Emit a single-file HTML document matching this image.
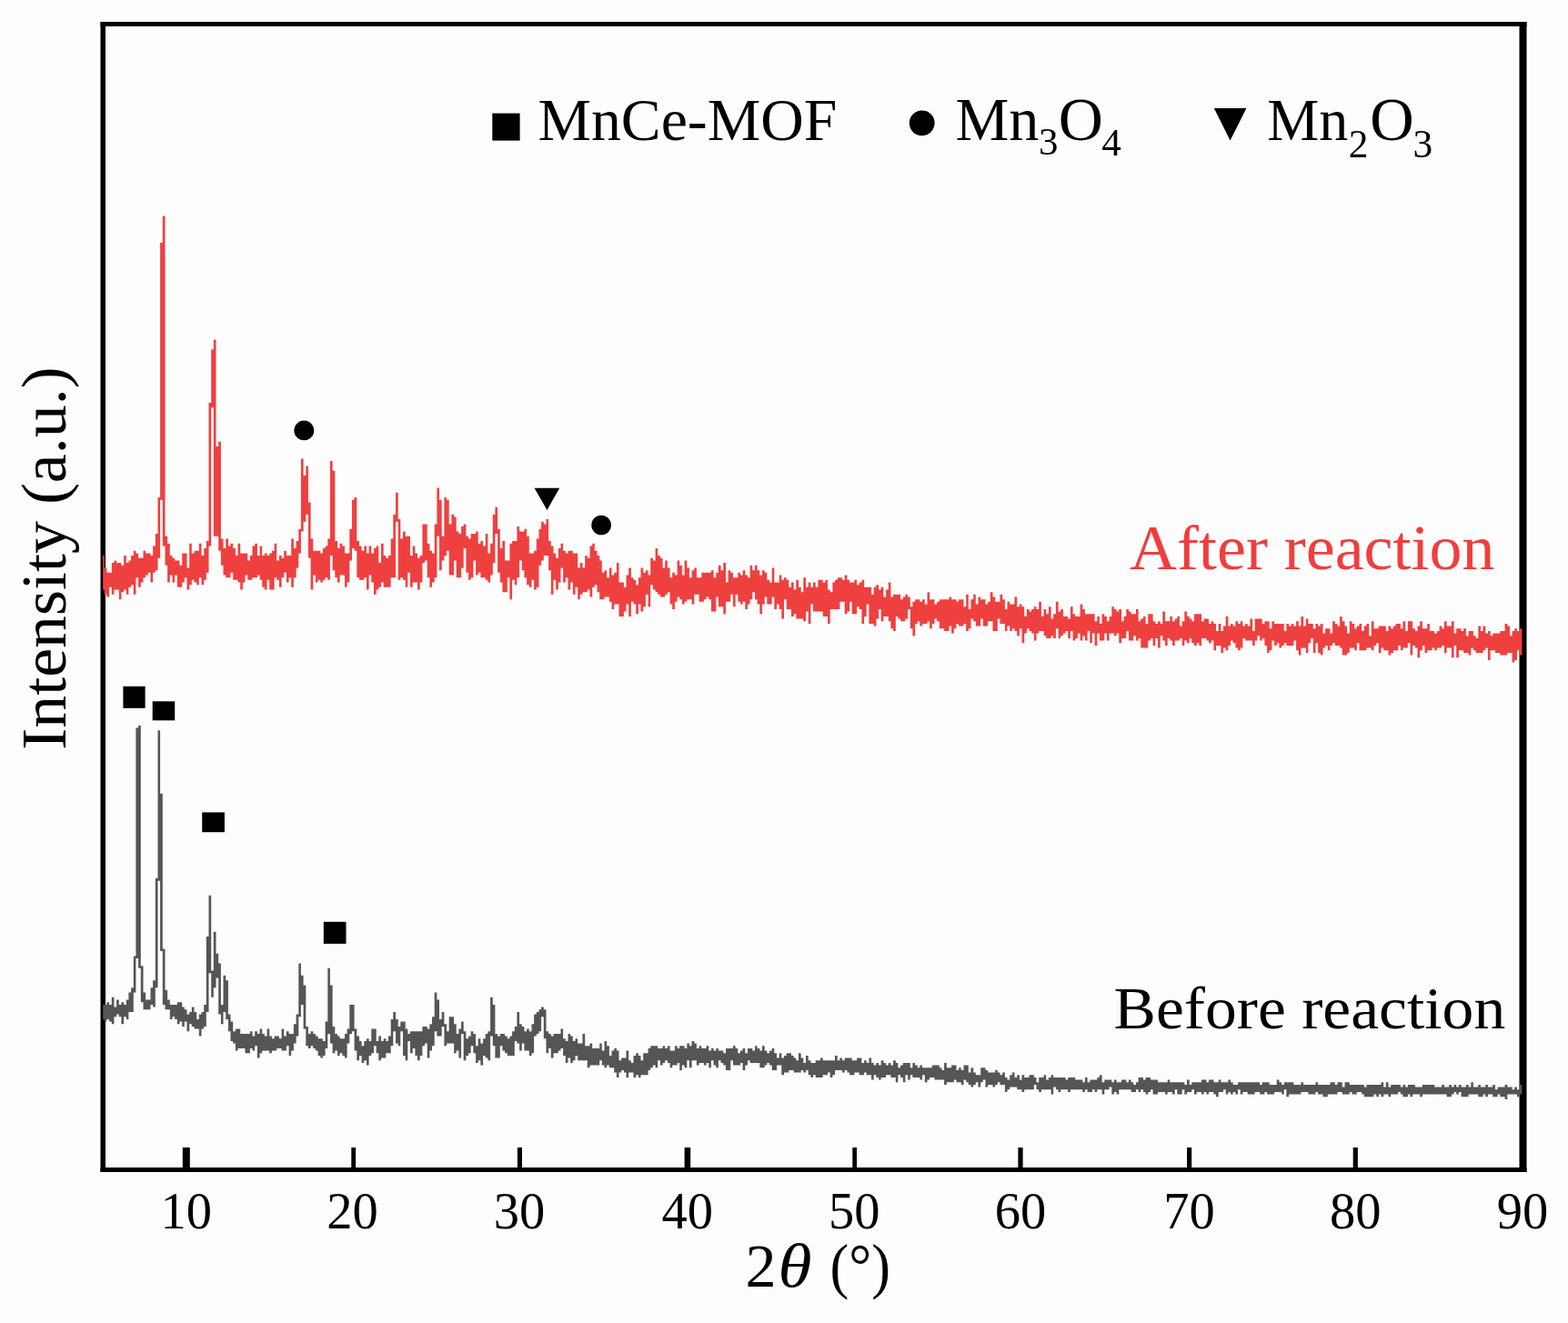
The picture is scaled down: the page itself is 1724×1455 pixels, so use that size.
<!DOCTYPE html>
<html lang="en">
<head>
<meta charset="utf-8">
<title>XRD patterns before and after reaction</title>
<style>
html,body{margin:0;padding:0;background:#fdfdfd;}
body{width:1724px;height:1455px;overflow:hidden;}
svg{display:block;}
</style>
</head>
<body>
<svg width="1724" height="1455" viewBox="0 0 1724 1455" font-family="'Liberation Serif', 'DejaVu Serif', serif">
<rect x="0" y="0" width="1724" height="1455" fill="#fdfdfd"/>
<g fill="#000">
<rect x="110.5" y="24" width="5.5" height="1265"/>
<rect x="1670.5" y="24" width="8.0" height="1265"/>
<rect x="110.5" y="24" width="1568.0" height="5"/>
<rect x="110.5" y="1284" width="1568.0" height="5"/>
<rect x="200.8" y="1262" width="8.0" height="23"/>
<rect x="386.3" y="1262" width="4.8" height="23"/>
<rect x="568.9" y="1262" width="5.1" height="23"/>
<rect x="752.6" y="1262" width="6.6" height="23"/>
<rect x="937.3" y="1262" width="4.7" height="23"/>
<rect x="1119.4" y="1262" width="5.2" height="23"/>
<rect x="1305.0" y="1262" width="5.2" height="23"/>
<rect x="1487.7" y="1262" width="5.2" height="23"/>
</g>
<path fill="#555555" d="M493.7 1118.2H499.1V1126.2H501.7V1136.9H504.4V1131.5H507.1V1123.5H509.7V1134.2H512.4V1142.2H515.1V1139.5H517.7V1134.2H520.4V1136.9H523.1V1150.2H525.7V1142.2H528.4V1147.6H531.1V1142.2H533.7V1136.9H536.4V1134.2H539.1V1096.8H541.8V1104.9H544.4V1136.9H547.1V1139.5H549.8V1136.9H555.1V1139.5H557.8V1142.2H560.4V1139.5H563.1V1134.2H565.8V1128.9H568.4V1112.9H571.1V1126.2H573.8V1128.9H576.4V1134.2H579.1V1131.5H581.8V1134.2H584.5V1126.2H587.1V1115.5H589.8V1112.9H592.5V1110.2H595.1V1107.5H597.8V1110.2H600.5V1134.2H603.1V1136.9H605.8V1139.5H608.5V1136.9H616.5V1131.5H619.1V1142.2H621.8V1144.9H624.5V1136.9H627.2V1139.5H629.8V1144.9H632.5V1142.2H635.2V1147.6H640.5V1136.9H643.2V1150.2H648.5V1147.6H651.2V1152.9H659.2V1147.6H661.8V1155.6H664.5V1144.9H667.2V1150.2H669.9V1160.9H672.5V1155.6H675.2V1152.9H677.9V1155.6H680.5V1166.2H683.2V1163.6H688.5V1155.6H691.2V1166.2H693.9V1168.9H696.5V1160.9H699.2V1158.2H701.9V1160.9H704.5V1166.2H707.2V1158.2H712.6V1152.9H715.2V1150.2H723.2V1152.9H728.6V1150.2H731.2V1152.9H733.9V1150.2H736.6V1155.6H741.9V1150.2H744.6V1152.9H747.2V1150.2H752.6V1152.9H755.3V1147.6H757.9V1150.2H760.6V1144.9H763.3V1147.6H765.9V1152.9H768.6V1150.2H771.3V1152.9H776.6V1150.2H779.3V1155.6H781.9V1152.9H784.6V1155.6H787.3V1152.9H789.9V1155.6H795.3V1158.2H798V1152.9H806V1150.2H808.6V1152.9H811.3V1158.2H814V1155.6H816.6V1152.9H819.3V1158.2H822V1152.9H827.3V1155.6H830V1150.2H832.6V1152.9H835.3V1155.6H838V1150.2H840.7V1155.6H843.3V1158.2H846V1155.6H848.7V1152.9H851.3V1158.2H854V1163.6H856.7V1158.2H859.3V1163.6H862V1160.9H864.7V1158.2H870V1160.9H872.7V1163.6H875.3V1166.2H878V1158.2H880.7V1163.6H883.3V1168.9H886V1160.9H888.7V1166.2H891.4V1168.9H896.7V1166.2H902V1163.6H904.7V1166.2H918V1160.9H920.7V1166.2H923.4V1163.6H926V1166.2H928.7V1163.6H936.7V1166.2H942.1V1163.6H947.4V1168.9H950.1V1166.2H952.7V1168.9H955.4V1163.6H958.1V1168.9H960.7V1171.6H963.4V1168.9H966.1V1171.6H968.7V1166.2H971.4V1168.9H974.1V1171.6H976.8V1168.9H979.4V1171.6H982.1V1166.2H984.8V1168.9H987.4V1174.2H990.1V1171.6H992.8V1168.9H1000.8V1174.2H1003.4V1168.9H1006.1V1171.6H1008.8V1174.2H1011.4V1171.6H1014.1V1174.2H1024.8V1171.6H1032.8V1174.2H1035.5V1176.9H1038.1V1168.9H1040.8V1174.2H1046.1V1171.6H1051.5V1176.9H1054.1V1174.2H1056.8V1176.9H1059.5V1171.6H1064.8V1179.6H1067.5V1174.2H1070.2V1179.6H1072.8V1182.2H1078.2V1174.2H1083.5V1176.9H1086.2V1179.6H1094.2V1176.9H1096.8V1179.6H1099.5V1182.2H1102.2V1179.6H1104.9V1184.9H1107.5V1187.6H1110.2V1182.2H1112.9V1179.6H1115.5V1184.9H1118.2V1182.2H1120.9V1187.6H1123.5V1182.2H1126.2V1184.9H1131.5V1182.2H1136.9V1184.9H1139.5V1190.3H1142.2V1184.9H1147.6V1182.2H1150.2V1187.6H1152.9V1184.9H1155.6V1182.2H1158.2V1184.9H1171.6V1187.6H1174.2V1184.9H1182.2V1187.6H1190.3V1190.3H1192.9V1184.9H1195.6V1190.3H1198.3V1187.6H1206.3V1184.9H1208.9V1182.2H1211.6V1190.3H1214.3V1187.6H1222.3V1190.3H1224.9V1187.6H1227.6V1190.3H1233V1187.6H1238.3V1190.3H1241V1187.6H1243.6V1190.3H1246.3V1192.9H1249V1190.3H1251.6V1184.9H1257V1187.6H1259.6V1184.9H1265V1187.6H1273V1190.3H1283.7V1187.6H1286.3V1190.3H1302.3V1192.9H1305V1187.6H1307.7V1192.9H1310.3V1190.3H1321V1187.6H1326.4V1190.3H1329V1187.6H1334.4V1190.3H1339.7V1187.6H1342.4V1190.3H1350.4V1187.6H1353V1190.3H1355.7V1192.9H1361.1V1190.3H1385.1V1192.9H1387.7V1190.3H1395.7V1192.9H1403.8V1187.6H1406.4V1190.3H1409.1V1192.9H1411.8V1190.3H1422.4V1192.9H1430.4V1190.3H1433.1V1192.9H1446.5V1190.3H1449.1V1192.9H1462.5V1190.3H1467.8V1192.9H1470.5V1190.3H1475.8V1195.6H1478.5V1190.3H1483.8V1192.9H1499.8V1195.6H1502.5V1192.9H1518.5V1190.3H1521.2V1195.6H1523.8V1190.3H1526.5V1195.6H1529.2V1192.9H1539.9V1195.6H1542.5V1192.9H1545.2V1195.6H1547.9V1192.9H1555.9V1195.6H1563.9V1192.9H1577.2V1195.6H1585.2V1192.9H1587.9V1195.6H1593.2V1192.9H1595.9V1195.6H1598.6V1192.9H1601.2V1195.6H1603.9V1192.9H1606.6V1195.6H1611.9V1192.9H1614.6V1195.6H1617.3V1190.3H1619.9V1195.6H1625.3V1192.9H1627.9V1195.6H1633.3V1192.9H1635.9V1195.6H1641.3V1192.9H1643.9V1198.3H1646.6V1195.6H1654.6V1192.9H1657.3V1195.6H1662.6V1198.3H1665.3V1195.6H1668V1198.3H1670.6V1192.9H1673.3V1195.6H1673.4V1203.6H1670.6V1206.3H1668V1203.6H1657.3V1208.9H1654.6V1206.3H1649.3V1203.6H1646.6V1206.3H1641.3V1203.6H1635.9V1206.3H1633.3V1203.6H1630.6V1206.3H1625.3V1203.6H1614.6V1206.3H1606.6V1200.9H1603.9V1203.6H1601.2V1200.9H1598.6V1203.6H1595.9V1206.3H1590.6V1203.6H1563.9V1206.3H1561.2V1203.6H1553.2V1206.3H1550.5V1203.6H1547.9V1206.3H1542.5V1203.6H1539.9V1200.9H1537.2V1203.6H1529.2V1206.3H1526.5V1203.6H1521.2V1206.3H1518.5V1203.6H1515.8V1206.3H1513.2V1203.6H1510.5V1206.3H1499.8V1203.6H1497.2V1200.9H1491.8V1203.6H1486.5V1200.9H1483.8V1203.6H1475.8V1200.9H1470.5V1203.6H1459.8V1206.3H1454.5V1203.6H1449.1V1200.9H1446.5V1203.6H1438.4V1200.9H1430.4V1203.6H1417.1V1206.3H1414.4V1198.3H1411.8V1203.6H1409.1V1200.9H1401.1V1203.6H1393.1V1200.9H1390.4V1203.6H1385.1V1200.9H1379.7V1203.6H1371.7V1200.9H1366.4V1203.6H1363.7V1198.3H1361.1V1203.6H1358.4V1200.9H1355.7V1203.6H1353V1200.9H1350.4V1203.6H1347.7V1198.3H1345V1200.9H1339.7V1206.3H1337V1203.6H1334.4V1200.9H1329V1203.6H1326.4V1200.9H1323.7V1203.6H1321V1200.9H1315.7V1203.6H1313V1198.3H1310.3V1200.9H1305V1203.6H1302.3V1198.3H1299.7V1203.6H1294.3V1198.3H1291.7V1203.6H1289V1200.9H1283.7V1203.6H1281V1200.9H1273V1203.6H1267.6V1198.3H1265V1200.9H1262.3V1203.6H1259.6V1200.9H1257V1198.3H1254.3V1200.9H1251.6V1198.3H1249V1200.9H1243.6V1198.3H1230.3V1203.6H1227.6V1200.9H1224.9V1203.6H1222.3V1195.6H1219.6V1198.3H1214.3V1203.6H1211.6V1198.3H1206.3V1200.9H1203.6V1198.3H1200.9V1200.9H1195.6V1198.3H1192.9V1200.9H1190.3V1198.3H1176.9V1200.9H1174.2V1198.3H1166.2V1200.9H1163.6V1198.3H1160.9V1195.6H1158.2V1203.6H1155.6V1198.3H1144.9V1200.9H1142.2V1198.3H1139.5V1192.9H1136.9V1198.3H1126.2V1200.9H1123.5V1198.3H1118.2V1195.6H1110.2V1198.3H1107.5V1200.9H1104.9V1192.9H1099.5V1190.3H1096.8V1192.9H1094.2V1195.6H1091.5V1192.9H1086.2V1195.6H1083.5V1187.6H1080.8V1190.3H1078.2V1195.6H1075.5V1190.3H1072.8V1192.9H1070.2V1195.6H1067.5V1192.9H1064.8V1190.3H1062.2V1187.6H1059.5V1192.9H1056.8V1190.3H1051.5V1187.6H1048.8V1190.3H1040.8V1192.9H1038.1V1187.6H1027.5V1184.9H1022.1V1187.6H1019.5V1190.3H1016.8V1182.2H1014.1V1187.6H1011.4V1184.9H1003.4V1182.2H1000.8V1187.6H998.1V1182.2H995.4V1190.3H992.8V1184.9H990.1V1182.2H987.4V1190.3H984.8V1184.9H979.4V1182.2H974.1V1184.9H968.7V1187.6H966.1V1184.9H963.4V1182.2H960.7V1187.6H958.1V1182.2H952.7V1179.6H950.1V1182.2H944.7V1179.6H939.4V1182.2H934.1V1179.6H931.4V1176.9H928.7V1179.6H926V1176.9H918V1182.2H915.4V1184.9H912.7V1179.6H910V1182.2H904.7V1184.9H896.7V1182.2H894V1184.9H891.4V1182.2H888.7V1176.9H886V1179.6H883.3V1176.9H880.7V1179.6H872.7V1176.9H867.3V1179.6H862V1182.2H859.3V1171.6H854V1176.9H848.7V1171.6H846V1168.9H843.3V1171.6H840.7V1174.2H835.3V1168.9H824.6V1166.2H822V1171.6H819.3V1176.9H816.6V1168.9H814V1171.6H806V1166.2H803.3V1176.9H798V1171.6H795.3V1168.9H792.6V1166.2H789.9V1174.2H787.3V1171.6H784.6V1166.2H781.9V1174.2H779.3V1168.9H776.6V1171.6H773.9V1168.9H768.6V1171.6H765.9V1166.2H760.6V1174.2H757.9V1166.2H755.3V1174.2H752.6V1171.6H749.9V1176.9H747.2V1168.9H744.6V1171.6H739.2V1174.2H736.6V1168.9H733.9V1166.2H731.2V1168.9H728.6V1171.6H725.9V1166.2H723.2V1174.2H720.6V1171.6H717.9V1174.2H715.2V1176.9H712.6V1182.2H704.5V1184.9H701.9V1182.2H699.2V1184.9H696.5V1179.6H691.2V1184.9H688.5V1179.6H685.9V1176.9H683.2V1179.6H680.5V1184.9H677.9V1179.6H675.2V1174.2H669.9V1171.6H667.2V1174.2H664.5V1171.6H661.8V1166.2H659.2V1171.6H648.5V1174.2H645.8V1166.2H635.2V1160.9H632.5V1166.2H629.8V1168.9H627.2V1163.6H624.5V1168.9H621.8V1160.9H619.1V1152.9H616.5V1155.6H613.8V1158.2H608.5V1163.6H605.8V1152.9H603.1V1158.2H600.5V1142.2H597.8V1118.2H595.1V1134.2H592.5V1136.9H589.8V1139.5H587.1V1158.2H584.5V1160.9H581.8V1155.6H576.4V1147.6H573.8V1155.6H571.1V1147.6H568.4V1144.9H565.8V1160.9H557.8V1158.2H555.1V1155.6H552.4V1150.2H549.8V1163.6H544.4V1150.2H541.8V1139.5H539.1V1166.2H536.4V1163.6H533.7V1160.9H531.1V1171.6H528.4V1166.2H525.7V1168.9H523.1V1158.2H520.4V1150.2H517.7V1158.2H515.1V1160.9H512.4V1166.2H509.7V1136.9H507.1V1163.6H504.4V1155.6H501.7V1158.2H499.1V1147.6H491V1150.2H488.4V1128.9H485.7V1139.5H480.4V1134.2H477.7V1150.2H475V1155.6H472.4V1163.6H469.7V1147.6H467V1150.2H464.4V1160.9H461.7V1166.2H459V1160.9H456.4V1152.9H453.7V1158.2H451V1144.9H448.3V1166.2H445.7V1160.9H443V1134.2H440.3V1150.2H437.7V1147.6H435V1134.2H432.3V1150.2H429.7V1158.2H424.3V1163.6H419V1166.2H416.3V1158.2H413.7V1150.2H411V1158.2H408.3V1160.9H405.6V1171.6H403V1166.2H400.3V1168.9H397.6V1160.9H395V1166.2H392.3V1155.6H389.6V1134.2H387V1136.9H384.3V1147.6H381.6V1163.6H379V1160.9H376.3V1158.2H373.6V1160.9H371V1155.6H368.3V1158.2H365.6V1147.6H362.9V1136.9H360.3V1152.9H357.6V1160.9H354.9V1163.6H352.3V1160.9H349.6V1155.6H346.9V1152.9H344.3V1150.2H341.6V1152.9H338.9V1150.2H336.3V1131.5H333.6V1104.9H330.9V1118.2H328.3V1139.5H325.6V1147.6H322.9V1155.6H320.2V1160.9H317.6V1150.2H314.9V1155.6H309.6V1152.9H304.2V1155.6H298.9V1158.2H296.2V1155.6H288.2V1158.2H285.6V1163.6H282.9V1150.2H280.2V1155.6H277.5V1152.9H274.9V1158.2H269.5V1152.9H261.5V1155.6H258.9V1147.6H256.2V1144.9H253.5V1134.2H250.9V1120.9H248.2V1112.9H245.5V1126.2H242.9V1115.5H240.2V1075.5H237.5V1086.2H234.8V1096.8H232.2V1070.2H229.5V1112.9H226.8V1128.9H224.2V1131.5H221.5V1139.5H218.8V1131.5H213.5V1128.9H210.8V1126.2H208.2V1134.2H205.5V1123.5H202.8V1128.9H200.2V1123.5H197.5V1126.2H194.8V1120.9H192.1V1118.2H189.5V1120.9H186.8V1110.2H181.5V1104.9H178.8V1046.1H176.1V968.7H173.5V1086.2H170.8V1107.5H168.1V1104.9H165.5V1110.2H157.5V1102.2H154.8V1064.8H152.1V1054.1H149.4V1091.5H146.8V1112.9H141.4V1120.9H138.8V1118.2H136.1V1126.2H133.4V1118.2H130.8V1115.5H128.1V1118.2H125.4V1126.2H122.8V1123.5H120.1V1120.9H117.4V1123.5H114.8V1120.9H113.2V1118.2H113.2V1115.5H113.2V1104.9H117.4V1102.2H120.1V1104.9H122.8V1096.8H125.4V1107.5H128.1V1099.5H130.8V1104.9H133.4V1102.2H136.1V1104.9H138.8V1099.5H141.4V1091.5H144.1V1086.2H146.8V1051.5H149.4V800.6H152.1V798H154.8V1062.2H157.5V1091.5H160.1V1099.5H165.5V1086.2H168.1V1078.2H170.8V966.1H173.5V803.3H176.1V872.7H178.8V1043.5H181.5V1088.8H184.1V1099.5H186.8V1104.9H194.8V1102.2H200.2V1107.5H202.8V1110.2H205.5V1115.5H208.2V1112.9H210.8V1107.5H213.5V1112.9H216.2V1120.9H218.8V1115.5H221.5V1112.9H224.2V1104.9H226.8V1030.1H229.5V984.8H232.2V1067.5H234.8V1024.8H237.5V1048.8H240.2V1059.5H242.9V1104.9H245.5V1072.8H248.2V1078.2H250.9V1115.5H253.5V1123.5H256.2V1134.2H258.9V1131.5H264.2V1136.9H274.9V1134.2H277.5V1139.5H280.2V1134.2H282.9V1136.9H285.6V1131.5H288.2V1136.9H290.9V1139.5H293.6V1131.5H296.2V1139.5H298.9V1142.2H301.6V1139.5H306.9V1142.2H309.6V1131.5H312.2V1139.5H314.9V1134.2H317.6V1136.9H322.9V1126.2H325.6V1115.5H328.3V1059.5H330.9V1072.8H333.6V1083.5H336.3V1128.9H338.9V1136.9H341.6V1134.2H344.3V1136.9H346.9V1139.5H349.6V1142.2H354.9V1144.9H357.6V1123.5H360.3V1064.8H362.9V1083.5H365.6V1128.9H368.3V1136.9H371V1139.5H373.6V1142.2H379V1136.9H381.6V1131.5H384.3V1104.9H389.6V1131.5H392.3V1139.5H395V1144.9H397.6V1150.2H400.3V1144.9H403V1142.2H405.6V1144.9H408.3V1131.5H413.7V1144.9H416.3V1139.5H419V1144.9H421.7V1142.2H424.3V1144.9H427V1139.5H429.7V1120.9H432.3V1112.9H435V1120.9H437.7V1128.9H440.3V1123.5H445.7V1131.5H448.3V1136.9H451V1134.2H464.4V1128.9H469.7V1131.5H472.4V1126.2H475V1118.2H477.7V1091.5H480.4V1099.5H483V1120.9H485.7V1112.9H488.4V1126.2H491V1134.2H493.7Z"/>
<path fill="#ef4040" d="M330.9 584.5V608.5H328.3V624.5H325.6V635.2H322.9V645.8H320.2V635.2H317.6V640.5H314.9V629.8H312.2V635.2H309.6V645.8H306.9V637.8H304.2V635.2H301.6V648.5H296.2V637.8H293.6V648.5H290.9V645.8H288.2V637.8H285.6V632.5H282.9V635.2H277.5V637.8H272.2V632.5H269.5V640.5H266.9V648.5H264.2V640.5H261.5V637.8H256.2V629.8H253.5V635.2H248.2V632.5H245.5V621.8H242.9V605.8H240.2V589.8H234.8V448.3H232.2V600.5H229.5V629.8H226.8V637.8H224.2V643.2H221.5V635.2H218.8V643.2H216.2V640.5H213.5V637.8H210.8V643.2H208.2V648.5H205.5V635.2H202.8V640.5H200.2V645.8H194.8V632.5H192.1V640.5H189.5V632.5H186.8V640.5H184.1V621.8H181.5V600.5H178.8V549.8H176.1V613.8H173.5V627.2H170.8V629.8H168.1V640.5H165.5V629.8H162.8V632.5H160.1V635.2H157.5V640.5H154.8V645.8H152.1V635.2H149.4V653.8H146.8V643.2H144.1V645.8H141.4V653.8H138.8V648.5H136.1V651.2H133.4V659.2H130.8V648.5H125.4V653.8H122.8V645.8H120.1V656.5H117.4V653.8H114.8V648.5H113.2V659.2H113.2V645.8H113.2V611.1H114.8V624.5H117.4V629.8H122.8V619.1H125.4V616.5H128.1V619.1H133.4V621.8H136.1V611.1H138.8V619.1H141.4V616.5H144.1V611.1H146.8V605.8H149.4V608.5H152.1V613.8H157.5V605.8H160.1V608.5H165.5V611.1H168.1V600.5H170.8V587.1H173.5V547.1H176.1V266.9H178.8V237.5H181.5V589.8H184.1V597.8H186.8V611.1H189.5V613.8H192.1V616.5H197.5V621.8H200.2V608.5H205.5V624.5H208.2V597.8H210.8V608.5H213.5V605.8H218.8V597.8H221.5V611.1H224.2V603.1H226.8V595.1H229.5V443H232.2V384.3H234.8V373.6H237.5V491H240.2V485.7H242.9V592.5H245.5V603.1H248.2V592.5H250.9V600.5H253.5V597.8H256.2V603.1H258.9V611.1H261.5V597.8H264.2V608.5H272.2V616.5H274.9V611.1H277.5V600.5H280.2V597.8H282.9V611.1H285.6V600.5H288.2V611.1H290.9V608.5H293.6V611.1H296.2V608.5H298.9V605.8H301.6V597.8H304.2V616.5H306.9V611.1H309.6V613.8H312.2V605.8H314.9V611.1H320.2V592.5H322.9V603.1H325.6V595.1H328.3V581.8H330.9V504.4H333.6V523.1H336.3V512.4H338.9V552.4H341.6V592.5H344.3V605.8H352.3V608.5H354.9V603.1H357.6V600.5H360.3V592.5H362.9V507.1H365.6V517.7H368.3V595.1H371V603.1H373.6V597.8H376.3V600.5H379V608.5H384.3V581.8H387V549.8H389.6V547.1H392.3V595.1H395V600.5H397.6V605.8H400.3V600.5H403V608.5H405.6V600.5H408.3V608.5H411V603.1H413.7V600.5H416.3V619.1H419V597.8H421.7V611.1H424.3V613.8H427V611.1H429.7V592.5H432.3V565.8H435V541.8H437.7V571.1H440.3V592.5H443V584.5H445.7V589.8H451V611.1H453.7V600.5H456.4V608.5H459V613.8H461.7V611.1H464.4V576.4H469.7V597.8H472.4V605.8H475V608.5H477.7V576.4H480.4V536.4H483V549.8H485.7V589.8H488.4V547.1H491V549.8H493.7V576.4H496.4V565.8H499.1V568.4H501.7V584.5H504.4V587.1H507.1V579.1H509.7V576.4H512.4V589.8H515.1V592.5H517.7V587.1H523.1V584.5H525.7V597.8H528.4V595.1H531.1V600.5H533.7V587.1H536.4V608.5H539.1V597.8H541.8V565.8H544.4V557.8H547.1V581.8H549.8V603.1H552.4V595.1H555.1V616.5H560.4V597.8H563.1V595.1H568.4V579.1H571.1V584.5H576.4V581.8H579.1V589.8H581.8V608.5H587.1V605.8H589.8V592.5H592.5V581.8H595.1V573.8H597.8V576.4H600.5V571.1H603.1V595.1H605.8V600.5H608.5V608.5H611.1V613.8H613.8V603.1H616.5V597.8H619.1V605.8H621.8V608.5H624.5V605.8H629.8V608.5H635.2V624.5H637.8V619.1H640.5V624.5H643.2V611.1H645.8V613.8H648.5V600.5H651.2V597.8H653.8V605.8H656.5V611.1H659.2V616.5H661.8V629.8H664.5V627.2H667.2V635.2H669.9V624.5H672.5V632.5H675.2V629.8H677.9V619.1H680.5V640.5H685.9V645.8H688.5V632.5H691.2V624.5H693.9V635.2H696.5V637.8H699.2V643.2H701.9V635.2H704.5V624.5H707.2V629.8H709.9V627.2H712.6V632.5H715.2V613.8H717.9V616.5H720.6V603.1H723.2V611.1H725.9V613.8H728.6V624.5H731.2V616.5H733.9V624.5H736.6V635.2H739.2V629.8H741.9V632.5H744.6V616.5H747.2V621.8H749.9V632.5H752.6V616.5H755.3V624.5H757.9V635.2H760.6V627.2H763.3V624.5H765.9V635.2H771.3V629.8H781.9V627.2H784.6V635.2H787.3V629.8H789.9V621.8H792.6V627.2H795.3V619.1H798V640.5H800.6V627.2H803.3V629.8H806V635.2H811.3V629.8H814V632.5H816.6V627.2H819.3V632.5H822V635.2H824.6V621.8H827.3V627.2H830V621.8H832.6V627.2H835.3V632.5H838V627.2H840.7V629.8H843.3V637.8H846V640.5H848.7V624.5H851.3V640.5H856.7V632.5H859.3V637.8H862V635.2H864.7V637.8H867.3V645.8H870V640.5H872.7V648.5H875.3V637.8H878V645.8H880.7V651.2H883.3V635.2H886V645.8H888.7V640.5H891.4V645.8H894V640.5H896.7V645.8H899.4V637.8H904.7V640.5H907.4V637.8H910V648.5H912.7V651.2H915.4V640.5H918V637.8H920.7V635.2H926V637.8H928.7V632.5H931.4V637.8H934.1V640.5H939.4V637.8H942.1V643.2H944.7V640.5H947.4V637.8H950.1V645.8H958.1V653.8H960.7V645.8H963.4V643.2H966.1V648.5H968.7V645.8H971.4V656.5H974.1V648.5H976.8V640.5H979.4V656.5H982.1V653.8H990.1V659.2H992.8V656.5H995.4V653.8H998.1V656.5H1000.8V667.2H1003.4V661.8H1006.1V659.2H1011.4V661.8H1014.1V659.2H1016.8V664.5H1019.5V651.2H1022.1V659.2H1027.5V664.5H1030.1V661.8H1032.8V659.2H1043.5V656.5H1046.1V659.2H1051.5V661.8H1054.1V659.2H1059.5V667.2H1062.2V653.8H1064.8V669.9H1067.5V659.2H1070.2V653.8H1072.8V664.5H1075.5V656.5H1078.2V659.2H1083.5V664.5H1086.2V661.8H1088.8V651.2H1091.5V656.5H1094.2V661.8H1099.5V653.8H1102.2V659.2H1104.9V669.9H1107.5V661.8H1110.2V664.5H1115.5V656.5H1118.2V667.2H1120.9V664.5H1123.5V667.2H1126.2V677.9H1128.9V669.9H1131.5V672.5H1134.2V669.9H1136.9V667.2H1139.5V669.9H1142.2V661.8H1144.9V677.9H1147.6V669.9H1150.2V675.2H1152.9V667.2H1155.6V680.5H1158.2V675.2H1160.9V661.8H1163.6V672.5H1166.2V669.9H1168.9V677.9H1174.2V680.5H1176.9V667.2H1179.6V675.2H1182.2V677.9H1187.6V664.5H1190.3V669.9H1192.9V675.2H1203.6V683.2H1206.3V677.9H1208.9V685.9H1211.6V675.2H1214.3V677.9H1216.9V683.2H1219.6V677.9H1222.3V667.2H1224.9V669.9H1227.6V672.5H1230.3V669.9H1233V683.2H1235.6V677.9H1238.3V669.9H1241V672.5H1243.6V675.2H1249V669.9H1251.6V683.2H1254.3V680.5H1257V677.9H1259.6V685.9H1262.3V675.2H1267.6V683.2H1270.3V685.9H1273V683.2H1275.7V685.9H1278.3V672.5H1281V683.2H1286.3V677.9H1289V683.2H1291.7V680.5H1294.3V677.9H1297V688.5H1299.7V683.2H1302.3V672.5H1305V677.9H1307.7V680.5H1310.3V683.2H1313V675.2H1321V683.2H1323.7V680.5H1329V685.9H1331.7V683.2H1334.4V685.9H1337V693.9H1339.7V685.9H1342.4V693.9H1345V688.5H1347.7V677.9H1350.4V688.5H1353V685.9H1355.7V688.5H1358.4V683.2H1361.1V685.9H1363.7V683.2H1366.4V688.5H1369.1V685.9H1371.7V688.5H1374.4V680.5H1377.1V693.9H1379.7V680.5H1387.7V685.9H1390.4V683.2H1395.7V691.2H1398.4V683.2H1401.1V685.9H1411.8V693.9H1414.4V685.9H1417.1V688.5H1419.8V685.9H1422.4V688.5H1425.1V683.2H1427.8V688.5H1430.4V677.9H1433.1V688.5H1435.8V680.5H1438.4V685.9H1443.8V691.2H1446.5V685.9H1449.1V688.5H1451.8V685.9H1454.5V696.5H1457.1V691.2H1462.5V696.5H1465.1V683.2H1467.8V685.9H1470.5V688.5H1473.1V677.9H1475.8V683.2H1478.5V688.5H1481.1V696.5H1483.8V683.2H1486.5V685.9H1489.2V691.2H1491.8V688.5H1494.5V685.9H1497.2V693.9H1499.8V688.5H1502.5V685.9H1505.2V699.2H1507.8V683.2H1510.5V691.2H1515.8V688.5H1523.8V693.9H1526.5V688.5H1529.2V691.2H1531.9V688.5H1534.5V685.9H1539.9V691.2H1542.5V683.2H1545.2V693.9H1547.9V683.2H1553.2V691.2H1555.9V693.9H1558.5V688.5H1561.2V683.2H1563.9V691.2H1569.2V685.9H1571.9V693.9H1577.2V696.5H1579.9V693.9H1582.6V688.5H1585.2V691.2H1587.9V683.2H1590.6V688.5H1595.9V683.2H1598.6V696.5H1601.2V691.2H1606.6V693.9H1609.2V691.2H1611.9V699.2H1614.6V693.9H1619.9V699.2H1622.6V701.9H1625.3V688.5H1627.9V693.9H1630.6V688.5H1633.3V696.5H1635.9V693.9H1638.6V699.2H1641.3V696.5H1649.3V693.9H1654.6V685.9H1657.3V688.5H1660V699.2H1662.6V693.9H1665.3V691.2H1668V693.9H1670.6V691.2H1673.4V717.9H1673.3V720.6H1670.6V715.2H1668V725.9H1665.3V728.6H1662.6V717.9H1657.3V720.6H1649.3V717.9H1643.9V715.2H1638.6V725.9H1635.9V712.6H1633.3V715.2H1630.6V717.9H1622.6V715.2H1619.9V712.6H1617.3V720.6H1614.6V717.9H1609.2V715.2H1603.9V723.2H1601.2V709.9H1598.6V723.2H1595.9V712.6H1590.6V717.9H1587.9V709.9H1585.2V712.6H1579.9V715.2H1577.2V712.6H1574.6V715.2H1569.2V717.9H1566.5V709.9H1563.9V715.2H1561.2V723.2H1558.5V712.6H1555.9V709.9H1553.2V720.6H1550.5V707.2H1547.9V712.6H1542.5V715.2H1539.9V709.9H1537.2V715.2H1531.9V717.9H1529.2V720.6H1526.5V715.2H1521.2V712.6H1518.5V717.9H1515.8V707.2H1513.2V709.9H1510.5V715.2H1507.8V712.6H1502.5V715.2H1494.5V707.2H1491.8V715.2H1489.2V712.6H1483.8V717.9H1481.1V720.6H1475.8V712.6H1473.1V709.9H1467.8V707.2H1465.1V709.9H1462.5V715.2H1459.8V709.9H1457.1V712.6H1454.5V720.6H1451.8V717.9H1449.1V707.2H1446.5V717.9H1443.8V701.9H1441.1V707.2H1438.4V717.9H1435.8V712.6H1430.4V720.6H1427.8V715.2H1425.1V704.5H1422.4V709.9H1414.4V707.2H1411.8V709.9H1409.1V712.6H1406.4V707.2H1403.8V709.9H1401.1V704.5H1398.4V715.2H1395.7V717.9H1393.1V709.9H1390.4V701.9H1387.7V704.5H1385.1V699.2H1382.4V704.5H1379.7V709.9H1377.1V704.5H1369.1V701.9H1366.4V712.6H1363.7V715.2H1361.1V712.6H1358.4V707.2H1355.7V704.5H1353V709.9H1350.4V715.2H1347.7V712.6H1345V717.9H1342.4V709.9H1337V715.2H1334.4V704.5H1331.7V707.2H1329V704.5H1326.4V701.9H1321V709.9H1318.4V707.2H1315.7V709.9H1313V707.2H1310.3V701.9H1307.7V707.2H1305V704.5H1302.3V709.9H1299.7V701.9H1297V704.5H1291.7V709.9H1289V704.5H1286.3V701.9H1283.7V709.9H1281V704.5H1278.3V699.2H1275.7V712.6H1273V701.9H1270.3V709.9H1267.6V701.9H1265V704.5H1262.3V712.6H1254.3V701.9H1251.6V704.5H1249V699.2H1246.3V704.5H1241V693.9H1238.3V701.9H1233V707.2H1230.3V696.5H1227.6V699.2H1224.9V696.5H1219.6V704.5H1216.9V696.5H1214.3V704.5H1208.9V696.5H1206.3V709.9H1203.6V696.5H1200.9V707.2H1198.3V693.9H1195.6V704.5H1192.9V699.2H1190.3V704.5H1187.6V696.5H1184.9V701.9H1182.2V704.5H1179.6V693.9H1176.9V701.9H1174.2V693.9H1171.6V696.5H1168.9V699.2H1166.2V701.9H1163.6V691.2H1160.9V701.9H1158.2V699.2H1155.6V701.9H1150.2V699.2H1147.6V693.9H1142.2V696.5H1139.5V704.5H1136.9V696.5H1134.2V693.9H1131.5V691.2H1128.9V696.5H1126.2V707.2H1123.5V691.2H1120.9V699.2H1118.2V693.9H1115.5V691.2H1112.9V693.9H1110.2V688.5H1107.5V693.9H1104.9V685.9H1099.5V680.5H1096.8V693.9H1091.5V683.2H1086.2V688.5H1080.8V680.5H1078.2V688.5H1072.8V683.2H1070.2V680.5H1067.5V691.2H1064.8V693.9H1062.2V685.9H1059.5V688.5H1054.1V685.9H1051.5V691.2H1048.8V696.5H1046.1V688.5H1043.5V693.9H1038.1V691.2H1032.8V683.2H1030.1V680.5H1027.5V685.9H1024.8V691.2H1022.1V683.2H1019.5V685.9H1014.1V688.5H1011.4V683.2H1008.8V685.9H1006.1V699.2H1003.4V691.2H1000.8V669.9H998.1V680.5H995.4V683.2H990.1V680.5H987.4V677.9H984.8V693.9H982.1V691.2H979.4V683.2H976.8V677.9H971.4V683.2H968.7V669.9H966.1V680.5H963.4V688.5H960.7V685.9H955.4V664.5H952.7V677.9H950.1V685.9H947.4V669.9H944.7V667.2H942.1V675.2H936.7V661.8H934.1V672.5H931.4V675.2H928.7V661.8H923.4V669.9H912.7V685.9H910V677.9H904.7V672.5H894V664.5H891.4V685.9H888.7V672.5H886V683.2H883.3V680.5H875.3V675.2H872.7V677.9H870V669.9H864.7V659.2H862V680.5H859.3V669.9H856.7V664.5H854V669.9H851.3V656.5H848.7V664.5H843.3V656.5H840.7V664.5H838V675.2H835.3V664.5H832.6V659.2H830V651.2H827.3V659.2H824.6V664.5H822V669.9H819.3V661.8H816.6V664.5H814V661.8H811.3V653.8H808.6V667.2H806V653.8H803.3V661.8H798V675.2H795.3V667.2H789.9V656.5H787.3V672.5H781.9V659.2H779.3V656.5H776.6V659.2H773.9V661.8H768.6V653.8H763.3V664.5H760.6V659.2H755.3V661.8H752.6V664.5H749.9V659.2H747.2V656.5H744.6V661.8H741.9V669.9H739.2V664.5H736.6V651.2H733.9V653.8H731.2V656.5H725.9V653.8H723.2V651.2H720.6V648.5H717.9V643.2H715.2V667.2H712.6V653.8H709.9V667.2H707.2V672.5H704.5V664.5H701.9V675.2H699.2V664.5H696.5V661.8H693.9V677.9H691.2V664.5H688.5V672.5H685.9V677.9H680.5V664.5H675.2V669.9H672.5V661.8H669.9V656.5H664.5V659.2H659.2V651.2H656.5V643.2H653.8V645.8H651.2V656.5H648.5V648.5H645.8V651.2H640.5V653.8H637.8V659.2H635.2V645.8H632.5V653.8H629.8V640.5H627.2V648.5H624.5V635.2H621.8V640.5H619.1V624.5H616.5V640.5H613.8V648.5H611.1V637.8H608.5V653.8H605.8V627.2H603.1V611.1H597.8V616.5H595.1V621.8H592.5V645.8H589.8V648.5H587.1V637.8H584.5V645.8H581.8V643.2H579.1V635.2H576.4V627.2H573.8V616.5H571.1V635.2H568.4V643.2H565.8V637.8H563.1V659.2H560.4V635.2H557.8V651.2H552.4V640.5H549.8V629.8H547.1V587.1H544.4V619.1H541.8V632.5H539.1V640.5H536.4V637.8H533.7V635.2H528.4V629.8H525.7V632.5H523.1V616.5H520.4V635.2H517.7V637.8H515.1V629.8H512.4V603.1H509.7V624.5H507.1V635.2H501.7V616.5H499.1V632.5H493.7V605.8H491V611.1H488.4V616.5H485.7V627.2H483V589.8H480.4V635.2H477.7V640.5H475V645.8H472.4V635.2H469.7V616.5H467V619.1H464.4V640.5H461.7V648.5H459V640.5H453.7V645.8H451V629.8H448.3V645.8H445.7V637.8H443V635.2H440.3V637.8H437.7V573.8H435V635.2H429.7V645.8H421.7V640.5H419V645.8H416.3V648.5H413.7V653.8H411V640.5H408.3V632.5H405.6V648.5H403V635.2H400.3V637.8H395V635.2H392.3V605.8H389.6V603.1H387V616.5H384.3V640.5H381.6V645.8H379V632.5H373.6V640.5H371V635.2H368.3V627.2H365.6V611.1H362.9V637.8H360.3V635.2H357.6V637.8H354.9V640.5H352.3V637.8H349.6V640.5H346.9V632.5H344.3V648.5H341.6V613.8H338.9V565.8H336.3V573.8H333.6V584.5Z"/>
<g fill="#000">
<rect x="541.3" y="124.6" width="30.3" height="30"/>
<rect x="135.4" y="754.8" width="24.2" height="24"/>
<rect x="167.7" y="771.3" width="24.5" height="21"/>
<rect x="222.2" y="893.4" width="24.7" height="21.8"/>
<rect x="355.8" y="1013.8" width="24.7" height="24.1"/>
<circle cx="1013.7" cy="135.3" r="13.9"/>
<circle cx="334.3" cy="473.4" r="10.9"/>
<circle cx="661.1" cy="577.5" r="10.8"/>
<polygon points="1334.8,119.1 1370.4,119.1 1352.6,154.6"/>
<polygon points="587.6,536.7 615.2,536.7 601.5,561"/>
</g>
<text x="204.8" y="1350.8" font-size="56.5" fill="#000" text-anchor="middle">10</text>
<text x="387.5" y="1350.8" font-size="56.5" fill="#000" text-anchor="middle">20</text>
<text x="571.0" y="1350.8" font-size="56.5" fill="#000" text-anchor="middle">30</text>
<text x="755.7" y="1350.8" font-size="56.5" fill="#000" text-anchor="middle">40</text>
<text x="939.3" y="1350.8" font-size="56.5" fill="#000" text-anchor="middle">50</text>
<text x="1122.0" y="1350.8" font-size="56.5" fill="#000" text-anchor="middle">60</text>
<text x="1307.6" y="1350.8" font-size="56.5" fill="#000" text-anchor="middle">70</text>
<text x="1490.3" y="1350.8" font-size="56.5" fill="#000" text-anchor="middle">80</text>
<text x="1674.0" y="1350.8" font-size="56.5" fill="#000" text-anchor="middle">90</text>
<text x="591.5" y="154.4" font-size="66" fill="#000" text-anchor="start" textLength="328.7" lengthAdjust="spacingAndGlyphs">MnCe-MOF</text>
<text font-size="68" fill="#000"><tspan x="1050.4" y="153.8" textLength="92.0" lengthAdjust="spacingAndGlyphs">Mn</tspan><tspan x="1142.0" y="170.4" font-size="43">3</tspan><tspan x="1163.7" y="153.8">O</tspan><tspan x="1211.3" y="170.6" font-size="43">4</tspan></text>
<text font-size="66" fill="#000"><tspan x="1393.2" y="154.2" textLength="89.0" lengthAdjust="spacingAndGlyphs">Mn</tspan><tspan x="1482.8" y="173.2" font-size="43.5">2</tspan><tspan x="1506.2" y="154.4" font-size="67">O</tspan><tspan x="1553.6" y="173.4" font-size="43.5">3</tspan></text>
<text x="1242.1" y="626.2" font-size="70" fill="#f13d3d" text-anchor="start" textLength="401.3" lengthAdjust="spacingAndGlyphs">After reaction</text>
<text x="1224.5" y="1130.7" font-size="66" fill="#000" text-anchor="start" textLength="430.7" lengthAdjust="spacingAndGlyphs">Before reaction</text>
<text font-size="68" fill="#000"><tspan x="819.6" y="1414.8">2</tspan><tspan x="855.6" font-style="italic" textLength="37.0" lengthAdjust="spacingAndGlyphs">θ</tspan><tspan x="897.0" textLength="82.0" lengthAdjust="spacingAndGlyphs"> (°)</tspan></text>
<text x="0.0" y="0.0" font-size="70" fill="#000" text-anchor="start" textLength="421.3" lengthAdjust="spacingAndGlyphs" transform="translate(72.4,824.7) rotate(-90)">Intensity (a.u.)</text>
</svg>
</body>
</html>
